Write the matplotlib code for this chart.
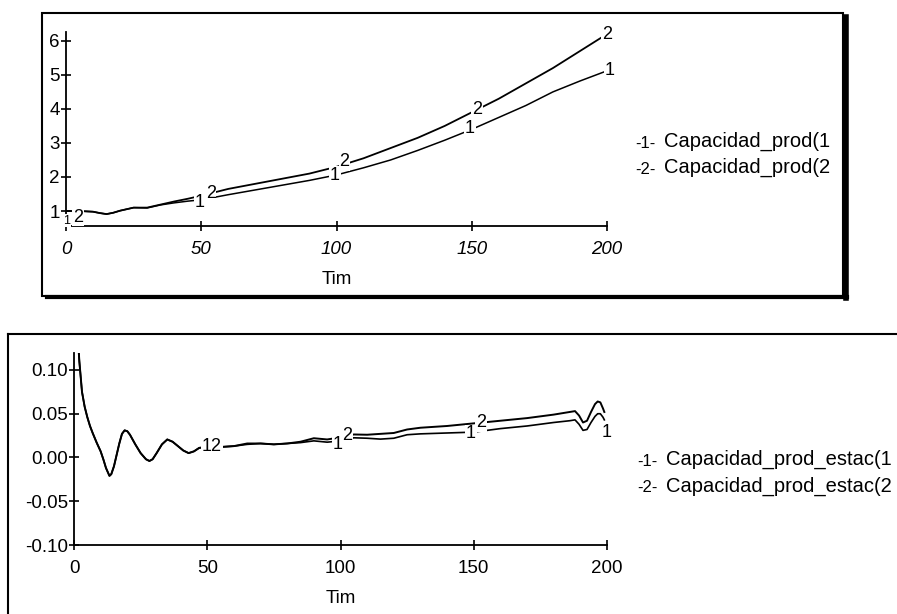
import numpy as np
from matplotlib import pyplot as plt
from matplotlib.patches import Rectangle
from matplotlib.lines import Line2D

# Top chart: Capacidad_prod
t_top = [0, 5, 10, 12.5, 15, 17.5, 20, 25, 30, 35, 40, 45, 50, 60, 70, 80, 90, 100,
         110, 120, 130, 140, 150, 160, 170, 180, 190, 200]
cap_prod_1 = [1.0, 1.0, 0.98, 0.94, 0.91, 0.95, 1.01, 1.1, 1.09, 1.18, 1.24, 1.29, 1.33,
              1.48, 1.62, 1.76, 1.9, 2.06, 2.27, 2.5, 2.78, 3.08, 3.4, 3.75, 4.1, 4.5,
              4.82, 5.12]
cap_prod_2 = [1.0, 1.0, 0.98, 0.94, 0.91, 0.95, 1.01, 1.1, 1.1, 1.19, 1.28, 1.36, 1.45,
              1.65, 1.8, 1.95, 2.1, 2.3, 2.55, 2.85, 3.15, 3.5, 3.9, 4.3, 4.75, 5.2,
              5.7, 6.2]

# Bottom chart: Capacidad_prod_estac
t_bot = [0, 1, 2, 3, 4, 5, 6, 7, 8.5, 10, 11, 12, 13.3, 14, 15, 16, 17, 18, 19, 20,
         21, 23, 25, 27, 28.3, 29.5, 31, 33, 35, 37, 39, 41, 43, 45, 47,
         50, 55, 60, 65, 70, 75, 80, 85, 90, 95, 100, 105, 110, 115, 120, 125, 130,
         140, 150, 160, 170, 180, 186, 188, 189.5, 191, 192.5, 194, 195.5, 196.5,
         197.5, 198.5, 199]
estac_1 = [0.25, 0.16, 0.11, 0.075, 0.058, 0.046, 0.036, 0.028, 0.017, 0.007, -0.002,
           -0.012, -0.021, -0.019, -0.010, 0.003, 0.016, 0.027, 0.031, 0.030,
           0.026, 0.015, 0.005, -0.002, -0.004, -0.002, 0.005, 0.015, 0.0206, 0.018,
           0.013, 0.008, 0.005, 0.007, 0.011,
           0.012, 0.012, 0.013, 0.015, 0.016, 0.015, 0.016, 0.017, 0.019, 0.0175, 0.019,
           0.0225, 0.022, 0.021, 0.022, 0.026, 0.027, 0.028, 0.029, 0.033, 0.036, 0.040,
           0.042, 0.043, 0.038, 0.031, 0.032, 0.040, 0.047, 0.050, 0.050, 0.046, 0.043]
estac_2 = [0.25, 0.16, 0.11, 0.075, 0.058, 0.046, 0.036, 0.028, 0.017, 0.007, -0.002,
           -0.012, -0.021, -0.019, -0.010, 0.003, 0.016, 0.027, 0.031, 0.030,
           0.026, 0.015, 0.005, -0.002, -0.004, -0.002, 0.005, 0.015, 0.0206, 0.018,
           0.013, 0.008, 0.005, 0.007, 0.011,
           0.012, 0.012, 0.013, 0.016, 0.016, 0.015, 0.016, 0.018, 0.022, 0.0206, 0.023,
           0.0263, 0.026, 0.027, 0.028, 0.032, 0.034, 0.036, 0.039, 0.042, 0.045, 0.049,
           0.052, 0.053, 0.048, 0.040, 0.042, 0.052, 0.061, 0.064, 0.063, 0.056, 0.052]

# curve labels: (series index, label text, time, x shift, y shift)
top_labels = [(1, "1", 0.3, 0, -0.28), (2, "2", 4.5, 0, -0.18),
              (1, "1", 49.5, 0, -0.07), (2, "2", 53.5, 0, 0.0),
              (1, "1", 99.4, 0, 0.0), (2, "2", 103, 0, 0.07),
              (1, "1", 149.3, 0, 0.05), (2, "2", 152, 0, 0.0),
              (1, "1", 200, 1, 0.0), (2, "2", 200, 0, 0.0)]
bot_labels = [(1, "12", 51.7, 0, 0.0),
              (1, "1", 99, 0, -0.004), (2, "2", 102.4, 0, 0.0),
              (1, "1", 149, 0, -0.002), (2, "2", 152.8, 0, 0.0),
              (1, "1", 199.8, 0, -0.014)]

FONT = 'Liberation Sans'
plt.rcParams['font.family'] = [FONT, 'DejaVu Sans']

fig = plt.figure(figsize=(8.97, 6.14), dpi=100)


def px_box(x0, y0, x1, y1):
    # figure fraction box from pixel corners (top-left origin)
    return [x0 / 897, 1 - y1 / 614, (x1 - x0) / 897, (y1 - y0) / 614]


def style_axes(ax, italic):
    for s in ['top', 'right']:
        ax.spines[s].set_visible(False)
    for s in ['left', 'bottom']:
        ax.spines[s].set_linewidth(1.3)
    ax.tick_params(direction='inout', length=7, width=1.2, labelsize=13.5)
    ax.tick_params(axis='y', pad=1)
    ax.tick_params(axis='x', pad=7)
    if italic:
        for lab in ax.get_xticklabels():
            lab.set_fontstyle('italic')
    ax.set_xlabel('Tim', fontsize=13.5, labelpad=10)


def put_labels(ax, t, s1, s2, labels, small_first=False):
    for k, (idx, txt, tl, dx, dy) in enumerate(labels):
        y = np.interp(tl, t, s1 if idx == 1 else s2)
        fs = 9 if (small_first and k == 0) else 13
        ax.text(tl + dx, y + dy, txt, fontsize=fs, ha='center', va='center',
                bbox=dict(facecolor='white', edgecolor='none', pad=0.5), zorder=5,
                clip_on=False)


# frames
fig.add_artist(Rectangle((42 / 897, 1 - 296 / 614), (843 - 42) / 897, (296 - 13) / 614,
                         transform=fig.transFigure, fill=False, edgecolor='black', lw=1.5))
fig.add_artist(Line2D([845.5 / 897, 845.5 / 897], [1 - 17 / 614, 1 - 298 / 614],
                      transform=fig.transFigure, color='black', lw=4))
fig.add_artist(Line2D([47 / 897, 847 / 897], [1 - 297 / 614, 1 - 297 / 614],
                      transform=fig.transFigure, color='black', lw=3))
fig.add_artist(Line2D([8 / 897, 897 / 897], [1 - 334 / 614, 1 - 334 / 614],
                      transform=fig.transFigure, color='black', lw=1.5))
fig.add_artist(Line2D([8 / 897, 8 / 897], [1 - 334 / 614, 0],
                      transform=fig.transFigure, color='black', lw=1.5))

# top chart
ax1 = fig.add_axes(px_box(66, 32, 607, 226))
ax1.plot(t_top, cap_prod_1, color='black', lw=1.1)
ax1.plot(t_top, cap_prod_2, color='black', lw=1.3)
ax1.set_xlim(0, 200)
ax1.set_ylim(0.56, 6.26)
ax1.set_xticks([0, 50, 100, 150, 200])
ax1.set_yticks([1, 2, 3, 4, 5, 6])
style_axes(ax1, True)
put_labels(ax1, t_top, cap_prod_1, cap_prod_2, top_labels, small_first=True)

# bottom chart
ax2 = fig.add_axes(px_box(74, 353, 607, 545))
ax2.plot(t_bot, estac_1, color='black', lw=1.2)
ax2.plot(t_bot, estac_2, color='black', lw=1.4)
ax2.set_xlim(0, 200)
ax2.set_ylim(-0.10, 0.1194)
ax2.set_xticks([0, 50, 100, 150, 200])
ax2.set_yticks([-0.10, -0.05, 0.00, 0.05, 0.10])
ax2.set_yticklabels(['-0.10', '-0.05', '0.00', '0.05', '0.10'])
style_axes(ax2, False)
put_labels(ax2, t_bot, estac_1, estac_2, bot_labels)

# legends
legend_top = ["Capacidad_prod(1", "Capacidad_prod(2"]
legend_bot = ["Capacidad_prod_estac(1", "Capacidad_prod_estac(2"]
for names, x0, ys, fs in [(legend_top, 635, [141, 167], 14.5),
                          (legend_bot, 637, [459, 486], 14.5)]:
    for i, (name, y) in enumerate(zip(names, ys)):
        fig.text(x0 / 897, 1 - (y + 2) / 614, f"-{i + 1}-", fontsize=12, va='center')
        fig.text((x0 + 29) / 897, 1 - y / 614, name, fontsize=fs, va='center')

fig.savefig('out.png', dpi=100)
